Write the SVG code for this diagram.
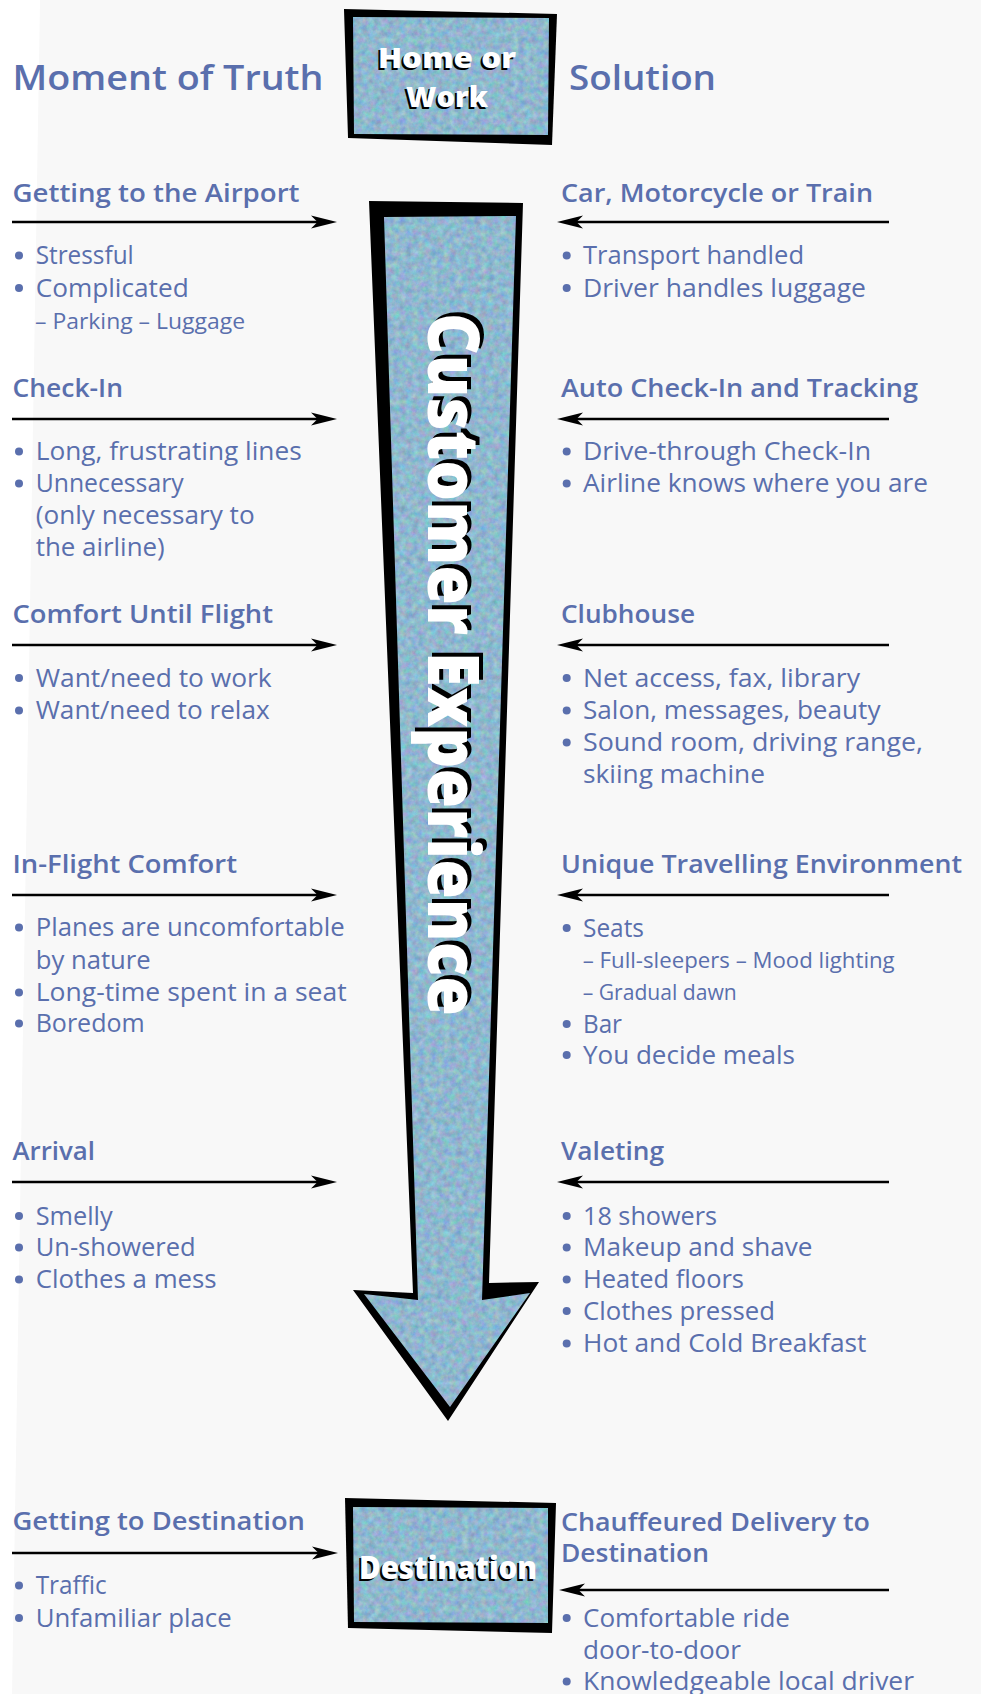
<svg xmlns="http://www.w3.org/2000/svg" width="981" height="1694" viewBox="0 0 981 1694">
  <style>
    text { font-family: "Open Sans", "Noto Sans", "Liberation Sans", sans-serif; fill: #5a6fad; }
    .title { font-size: 35px; font-weight: 600; }
    .h { font-size: 25px; font-weight: 600; }
    .b { font-size: 26px; font-weight: 400; }
    .s { font-size: 21px; font-weight: 400; }
    .lbl { font-weight: 800; fill: #ffffff; }
    .lbl.sh { fill: #000000; }
    .dot { fill: #5a6fad; }
    .frame { fill: #000000; }
    .tex { fill: #9cb0d2; filter: url(#grain); }
    .arr { stroke: #000000; stroke-width: 2.6; fill: none; marker-end: url(#head); }
  </style>
  <defs>
    <!-- mottled blue-grey stone texture -->
    <filter id="grain" x="0" y="0" width="1" height="1" color-interpolation-filters="sRGB">
      <feTurbulence type="fractalNoise" baseFrequency="0.16" numOctaves="4" seed="7" result="n"/>
      <feColorMatrix in="n" type="matrix" values="0.34 0 0 0 0.39  0 0.3 0 0 0.57  0 0 0.24 0 0.69  0 0 0 0 1" result="c"/>
      <feGaussianBlur in="c" stdDeviation="0.5" result="s"/>
      <feComposite in="s" in2="SourceGraphic" operator="in"/>
    </filter>
    <marker id="head" markerUnits="userSpaceOnUse" markerWidth="30" markerHeight="16" viewBox="0 0 30 16" refX="16" refY="8" orient="auto">
      <path d="M0,1.5 L26,8 L0,14.5 L6.5,8 Z" fill="#000000"/>
    </marker>
  </defs>

  <!-- page -->
  <rect x="0" y="0" width="981" height="1694" fill="#f8f8f8"/>
  <polygon points="0,0 40,0 12,1694 0,1694" fill="#ffffff"/>

  <!-- column titles -->
  <g id="titles">
    <text class="title" x="12.5" y="90" textLength="311" lengthAdjust="spacingAndGlyphs">Moment of Truth</text>
    <text class="title" x="569" y="90" textLength="147" lengthAdjust="spacingAndGlyphs">Solution</text>
  </g>

  <!-- start box -->
  <g id="home">
    <polygon class="frame" points="344,9 557,14 552,145 348,138"/>
    <polygon class="tex" points="353,17 549,18 548,135 354,134"/>
    <text class="lbl sh" x="445" y="70" font-size="29" text-anchor="middle" textLength="138" lengthAdjust="spacingAndGlyphs">Home or</text>
    <text class="lbl" x="447" y="68" font-size="29" text-anchor="middle" textLength="138" lengthAdjust="spacingAndGlyphs">Home or</text>
    <text class="lbl sh" x="445" y="109" font-size="29" text-anchor="middle" textLength="82" lengthAdjust="spacingAndGlyphs">Work</text>
    <text class="lbl" x="447" y="107" font-size="29" text-anchor="middle" textLength="82" lengthAdjust="spacingAndGlyphs">Work</text>
  </g>

  <!-- central journey arrow -->
  <g id="journey">
    <polygon class="frame" points="369,201 523,203 489,1283 539,1282 448,1421 353,1290 413,1293"/>
    <polygon class="tex" points="384,217 516,216 482,1300 530,1293 450,1407 364,1294 418,1300"/>
    <g transform="translate(428,313) rotate(90)">
      <text class="lbl sh" x="-4" y="-4" font-size="70" textLength="703" lengthAdjust="spacingAndGlyphs">Customer Experience</text>
      <text class="lbl" x="0" y="0" font-size="70" textLength="703" lengthAdjust="spacingAndGlyphs">Customer Experience</text>
    </g>
  </g>

  <!-- end box -->
  <g id="destination">
    <polygon class="frame" points="345,1498 556,1503 552,1633 348,1628"/>
    <polygon class="tex" points="353,1507 548,1508 548,1623 354,1622"/>
    <text class="lbl sh" x="446" y="1581" font-size="31" text-anchor="middle" textLength="178" lengthAdjust="spacingAndGlyphs">Destination</text>
    <text class="lbl" x="448" y="1579" font-size="31" text-anchor="middle" textLength="178" lengthAdjust="spacingAndGlyphs">Destination</text>
  </g>

  <!-- connectors -->
  <g id="connectors">
    <line class="arr" x1="12" y1="222" x2="327" y2="222"/>
    <line class="arr" x1="12" y1="419" x2="327" y2="419"/>
    <line class="arr" x1="12" y1="645" x2="327" y2="645"/>
    <line class="arr" x1="12" y1="895" x2="327" y2="895"/>
    <line class="arr" x1="12" y1="1182" x2="327" y2="1182"/>
    <line class="arr" x1="12" y1="1553" x2="328" y2="1553"/>
    <line class="arr" x1="889" y1="222" x2="567" y2="222"/>
    <line class="arr" x1="889" y1="419" x2="567" y2="419"/>
    <line class="arr" x1="889" y1="645" x2="567" y2="645"/>
    <line class="arr" x1="889" y1="895" x2="567" y2="895"/>
    <line class="arr" x1="889" y1="1182" x2="567" y2="1182"/>
    <line class="arr" x1="889" y1="1590" x2="569" y2="1590"/>
  </g>

  <!-- moments of truth -->
  <g id="m-airport">
    <text class="h" x="12.5" y="202" textLength="287" lengthAdjust="spacingAndGlyphs">Getting to the Airport</text>
    <circle class="dot" cx="19" cy="255.5" r="4"/>
    <text class="b" x="35.7" y="264" textLength="98" lengthAdjust="spacingAndGlyphs">Stressful</text>
    <circle class="dot" cx="19" cy="288" r="4"/>
    <text class="b" x="35.7" y="296.5" textLength="153" lengthAdjust="spacingAndGlyphs">Complicated</text>
    <text class="s" x="35" y="329" textLength="210" lengthAdjust="spacingAndGlyphs">–  Parking  –  Luggage</text>
  </g>
  <g id="m-checkin">
    <text class="h" x="12.5" y="397" textLength="110.5" lengthAdjust="spacingAndGlyphs">Check-In</text>
    <circle class="dot" cx="19" cy="451.5" r="4"/>
    <text class="b" x="35.7" y="460" textLength="266" lengthAdjust="spacingAndGlyphs">Long, frustrating lines</text>
    <circle class="dot" cx="19" cy="483.5" r="4"/>
    <text class="b" x="35.7" y="492" textLength="148" lengthAdjust="spacingAndGlyphs">Unnecessary</text>
    <text class="b" x="35.7" y="524" textLength="219" lengthAdjust="spacingAndGlyphs">(only necessary to</text>
    <text class="b" x="35.7" y="556" textLength="129" lengthAdjust="spacingAndGlyphs">the airline)</text>
  </g>
  <g id="m-comfort">
    <text class="h" x="12.5" y="623" textLength="260.5" lengthAdjust="spacingAndGlyphs">Comfort Until Flight</text>
    <circle class="dot" cx="19" cy="678" r="4"/>
    <text class="b" x="35.7" y="686.5" textLength="236" lengthAdjust="spacingAndGlyphs">Want/need to work</text>
    <circle class="dot" cx="19" cy="710.5" r="4"/>
    <text class="b" x="35.7" y="719" textLength="234" lengthAdjust="spacingAndGlyphs">Want/need to relax</text>
  </g>
  <g id="m-inflight">
    <text class="h" x="12.5" y="873" textLength="224.5" lengthAdjust="spacingAndGlyphs">In-Flight Comfort</text>
    <circle class="dot" cx="19" cy="927.5" r="4"/>
    <text class="b" x="35.7" y="936" textLength="309" lengthAdjust="spacingAndGlyphs">Planes are uncomfortable</text>
    <text class="b" x="35.7" y="968.5" textLength="115" lengthAdjust="spacingAndGlyphs">by nature</text>
    <circle class="dot" cx="19" cy="992.5" r="4"/>
    <text class="b" x="35.7" y="1001" textLength="311" lengthAdjust="spacingAndGlyphs">Long-time spent in a seat</text>
    <circle class="dot" cx="19" cy="1023.5" r="4"/>
    <text class="b" x="35.7" y="1032" textLength="109" lengthAdjust="spacingAndGlyphs">Boredom</text>
  </g>
  <g id="m-arrival">
    <text class="h" x="12.5" y="1160" textLength="82.5" lengthAdjust="spacingAndGlyphs">Arrival</text>
    <circle class="dot" cx="19" cy="1216" r="4"/>
    <text class="b" x="35.7" y="1224.5" textLength="77" lengthAdjust="spacingAndGlyphs">Smelly</text>
    <circle class="dot" cx="19" cy="1247.5" r="4"/>
    <text class="b" x="35.7" y="1256" textLength="160" lengthAdjust="spacingAndGlyphs">Un-showered</text>
    <circle class="dot" cx="19" cy="1279.5" r="4"/>
    <text class="b" x="35.7" y="1288" textLength="181" lengthAdjust="spacingAndGlyphs">Clothes a mess</text>
  </g>
  <g id="m-destination">
    <text class="h" x="12.5" y="1530" textLength="292.5" lengthAdjust="spacingAndGlyphs">Getting to Destination</text>
    <circle class="dot" cx="19" cy="1585.5" r="4"/>
    <text class="b" x="35.7" y="1594" textLength="71" lengthAdjust="spacingAndGlyphs">Traffic</text>
    <circle class="dot" cx="19" cy="1618" r="4"/>
    <text class="b" x="35.7" y="1626.5" textLength="196" lengthAdjust="spacingAndGlyphs">Unfamiliar place</text>
  </g>

  <!-- solutions -->
  <g id="s-transport">
    <text class="h" x="561" y="202" textLength="312" lengthAdjust="spacingAndGlyphs">Car, Motorcycle or Train</text>
    <circle class="dot" cx="566.7" cy="255.5" r="4"/>
    <text class="b" x="583" y="264" textLength="221" lengthAdjust="spacingAndGlyphs">Transport handled</text>
    <circle class="dot" cx="566.7" cy="288" r="4"/>
    <text class="b" x="583" y="296.5" textLength="283" lengthAdjust="spacingAndGlyphs">Driver handles luggage</text>
  </g>
  <g id="s-checkin">
    <text class="h" x="561" y="397" textLength="357" lengthAdjust="spacingAndGlyphs">Auto Check-In and Tracking</text>
    <circle class="dot" cx="566.7" cy="451.5" r="4"/>
    <text class="b" x="583" y="460" textLength="288" lengthAdjust="spacingAndGlyphs">Drive-through Check-In</text>
    <circle class="dot" cx="566.7" cy="483.5" r="4"/>
    <text class="b" x="583" y="492" textLength="345" lengthAdjust="spacingAndGlyphs">Airline knows where you are</text>
  </g>
  <g id="s-clubhouse">
    <text class="h" x="561" y="623" textLength="134" lengthAdjust="spacingAndGlyphs">Clubhouse</text>
    <circle class="dot" cx="566.7" cy="678" r="4"/>
    <text class="b" x="583" y="686.5" textLength="277" lengthAdjust="spacingAndGlyphs">Net access, fax, library</text>
    <circle class="dot" cx="566.7" cy="710.5" r="4"/>
    <text class="b" x="583" y="719" textLength="297.5" lengthAdjust="spacingAndGlyphs">Salon, messages, beauty</text>
    <circle class="dot" cx="566.7" cy="742.5" r="4"/>
    <text class="b" x="583" y="751" textLength="340" lengthAdjust="spacingAndGlyphs">Sound room, driving range,</text>
    <text class="b" x="583" y="782.5" textLength="182" lengthAdjust="spacingAndGlyphs">skiing machine</text>
  </g>
  <g id="s-environment">
    <text class="h" x="561" y="873" textLength="401" lengthAdjust="spacingAndGlyphs">Unique Travelling Environment</text>
    <circle class="dot" cx="566.7" cy="928" r="4"/>
    <text class="b" x="583" y="936.5" textLength="61" lengthAdjust="spacingAndGlyphs">Seats</text>
    <text class="s" x="582.7" y="968" textLength="312" lengthAdjust="spacingAndGlyphs">–  Full-sleepers  –  Mood lighting</text>
    <text class="s" x="582.7" y="1000" textLength="154" lengthAdjust="spacingAndGlyphs">– Gradual dawn</text>
    <circle class="dot" cx="566.7" cy="1024" r="4"/>
    <text class="b" x="583" y="1032.5" textLength="39" lengthAdjust="spacingAndGlyphs">Bar</text>
    <circle class="dot" cx="566.7" cy="1055" r="4"/>
    <text class="b" x="583" y="1063.5" textLength="212" lengthAdjust="spacingAndGlyphs">You decide meals</text>
  </g>
  <g id="s-valeting">
    <text class="h" x="561" y="1160" textLength="103" lengthAdjust="spacingAndGlyphs">Valeting</text>
    <circle class="dot" cx="566.7" cy="1216" r="4"/>
    <text class="b" x="583" y="1224.5" textLength="134" lengthAdjust="spacingAndGlyphs">18 showers</text>
    <circle class="dot" cx="566.7" cy="1247.5" r="4"/>
    <text class="b" x="583" y="1256" textLength="229.5" lengthAdjust="spacingAndGlyphs">Makeup and shave</text>
    <circle class="dot" cx="566.7" cy="1279.5" r="4"/>
    <text class="b" x="583" y="1288" textLength="161" lengthAdjust="spacingAndGlyphs">Heated floors</text>
    <circle class="dot" cx="566.7" cy="1311" r="4"/>
    <text class="b" x="583" y="1319.5" textLength="192" lengthAdjust="spacingAndGlyphs">Clothes pressed</text>
    <circle class="dot" cx="566.7" cy="1343.5" r="4"/>
    <text class="b" x="583" y="1352" textLength="283.5" lengthAdjust="spacingAndGlyphs">Hot and Cold Breakfast</text>
  </g>
  <g id="s-delivery">
    <text class="h" x="561" y="1531" textLength="309" lengthAdjust="spacingAndGlyphs">Chauffeured Delivery to</text>
    <text class="h" x="561" y="1562" textLength="148" lengthAdjust="spacingAndGlyphs">Destination</text>
    <circle class="dot" cx="566.7" cy="1618" r="4"/>
    <text class="b" x="583" y="1626.5" textLength="207" lengthAdjust="spacingAndGlyphs">Comfortable ride</text>
    <text class="b" x="583" y="1659" textLength="158" lengthAdjust="spacingAndGlyphs">door-to-door</text>
    <circle class="dot" cx="566.7" cy="1681.5" r="4"/>
    <text class="b" x="583" y="1690" textLength="331" lengthAdjust="spacingAndGlyphs">Knowledgeable local driver</text>
  </g>
</svg>
